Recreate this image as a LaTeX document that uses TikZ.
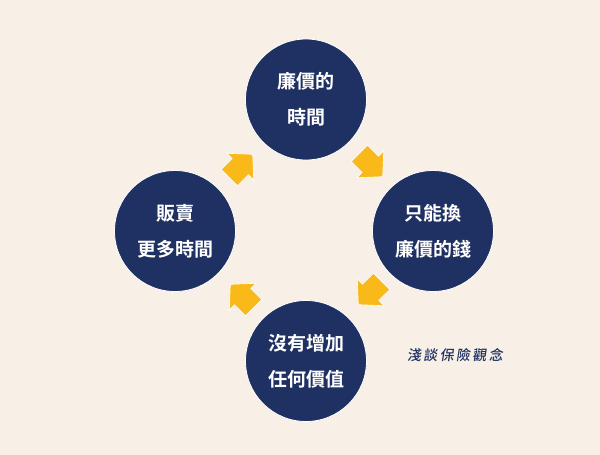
\documentclass[tikz,border=0pt]{standalone}
\usepackage{fontspec}
\newfontfamily\cjk{Noto Sans CJK TC}
\newfontfamily\cjkb{Noto Sans CJK TC Bold}
\newfontfamily\cjks[FakeSlant=0.15]{Noto Sans CJK TC Medium}
\definecolor{bg}{HTML}{F8F0E7}
\definecolor{navy}{HTML}{1F3162}
\definecolor{gold}{HTML}{F9B918}
\begin{document}
\begin{tikzpicture}[x=1pt,y=-1pt,
  bubble/.style={circle,fill=navy,draw=white,line width=0.8pt,minimum size=121pt,inner sep=0pt,
    text=white,font=\cjkb\fontsize{19}{36}\selectfont,align=center},
  blockarrow/.style={fill=gold,draw=white,line width=0.6pt}]
\fill[bg] (0,0) rectangle (600,455);
\useasboundingbox (0,0) rectangle (600,455);
\node[bubble] (top) at (306,99.5) {廉價的\\時間};
\node[bubble] (right) at (433,231) {只能換\\廉價的錢};
\node[bubble] (bottom) at (306,361) {沒有增加\\任何價值};
\node[bubble] (left) at (175,231) {販賣\\更多時間};
% arrows: local shape pointing along +x; rotation is counterclockwise on screen
\newcommand{\myarrow}[3]{%
  \draw[blockarrow,shift={(#1,#2)},rotate=#3]
    (-16.5,-11.5) -- (-1,-11.5) -- (-1,-19) -- (16.5,0) -- (-1,19) -- (-1,11.5) -- (-16.5,11.5) -- cycle;}
\myarrow{241}{166}{45}
\myarrow{371}{165}{-45}
\myarrow{370}{293}{-135}
\myarrow{242}{296}{135}
\node[text=navy,font=\cjks\fontsize{14}{16}\selectfont,inner sep=0pt] (title) at (455,355) {淺\,談\,保\,險\,觀\,念};
\end{tikzpicture}
\end{document}
